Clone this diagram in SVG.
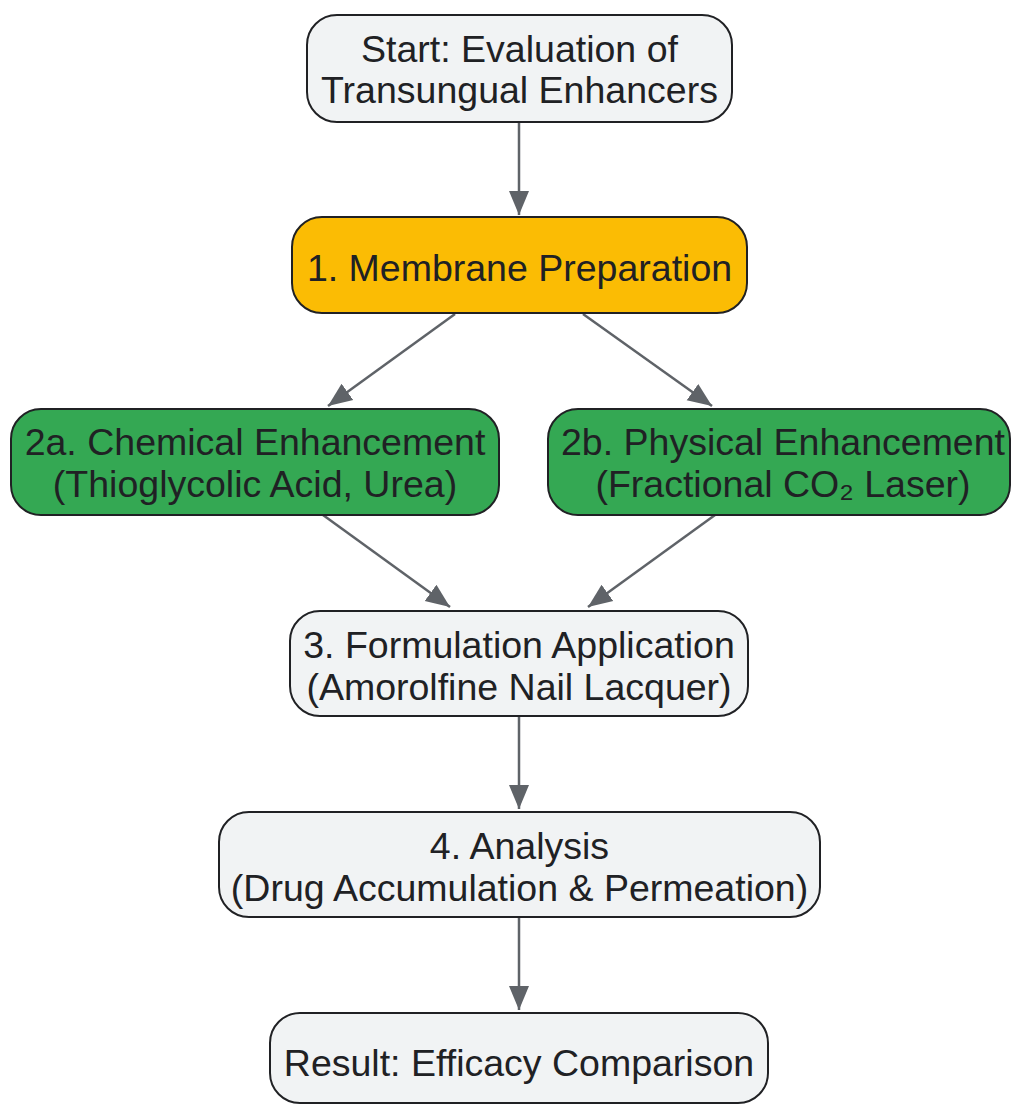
<svg xmlns="http://www.w3.org/2000/svg" width="1012" height="1105" viewBox="0 0 1012 1105">
<defs>
<style>
.n rect{stroke:#202124;stroke-width:2}
.g{fill:#f1f3f4}.y{fill:#fbbc04}.gr{fill:#34a853}
text{font-family:"Liberation Sans",Arial,sans-serif;font-size:37.5px;fill:#202124;text-anchor:middle}
.e line{stroke:#5f6368;stroke-width:2.5}
</style>
<marker id="ah" viewBox="0 0 24 24" refX="24" refY="12" markerWidth="24" markerHeight="24" markerUnits="userSpaceOnUse" orient="auto">
<path d="M0,2L24,12L0,22z" fill="#5f6368"/>
</marker>
</defs>
<rect width="1012" height="1105" fill="#fff"/>
<g class="e">
<line x1="519" y1="122" x2="519" y2="215" marker-end="url(#ah)"/>
<line x1="455" y1="314" x2="328" y2="406" marker-end="url(#ah)"/>
<line x1="583" y1="314" x2="712" y2="406" marker-end="url(#ah)"/>
<line x1="323" y1="515" x2="450" y2="607" marker-end="url(#ah)"/>
<line x1="715" y1="515" x2="588" y2="607" marker-end="url(#ah)"/>
<line x1="519" y1="716" x2="519" y2="809" marker-end="url(#ah)"/>
<line x1="519" y1="917" x2="519" y2="1010" marker-end="url(#ah)"/>
</g>
<g id="start" class="n"><rect class="g" x="307" y="15" width="425" height="107" rx="30"/><text x="519.5" y="62">Start: Evaluation of</text><text x="519.5" y="103">Transungual Enhancers</text></g>
<g id="prep" class="n"><rect class="y" x="292" y="217" width="455" height="96" rx="30"/><text x="519.5" y="281">1. Membrane Preparation</text></g>
<g id="chem" class="n"><rect class="gr" x="11" y="409" width="488" height="106" rx="30"/><text x="255" y="455">2a. Chemical Enhancement</text><text x="255" y="497">(Thioglycolic Acid, Urea)</text></g>
<g id="phys" class="n"><rect class="gr" x="548" y="409" width="462" height="106" rx="30"/><text x="783" y="455">2b. Physical Enhancement</text><text x="783" y="497">(Fractional CO₂ Laser)</text></g>
<g id="form" class="n"><rect class="g" x="290" y="611" width="458" height="105" rx="30"/><text x="519" y="658">3. Formulation Application</text><text x="519" y="700">(Amorolfine Nail Lacquer)</text></g>
<g id="anal" class="n"><rect class="g" x="219" y="812" width="601" height="105" rx="30"/><text x="519.5" y="859">4. Analysis</text><text x="519.5" y="901">(Drug Accumulation &amp; Permeation)</text></g>
<g id="result" class="n"><rect class="g" x="270" y="1013" width="498" height="90" rx="30"/><text x="519" y="1076">Result: Efficacy Comparison</text></g>
</svg>
